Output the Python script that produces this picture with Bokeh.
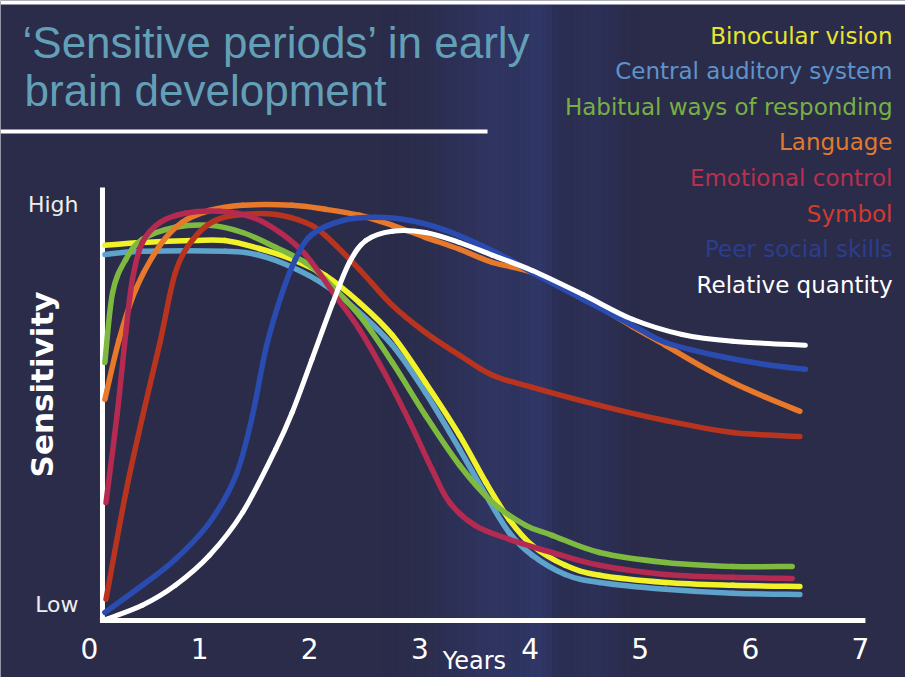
import math
from bokeh.plotting import figure
from bokeh.models import Range1d, FixedTicker, BoxAnnotation
from bokeh.core.properties import value
from bokeh.embed import file_html
from bokeh.resources import INLINE

# ---------------- data (years vs. relative sensitivity) ----------------
title_lines = ["\u2018Sensitive periods\u2019 in early", "brain development"]

binocular_x = [0.14, 0.48, 0.94, 1.23, 1.54, 1.84, 2.14, 2.45, 2.75, 3.05, 3.36, 3.60, 3.81, 4.02, 4.32, 4.63, 5.23, 5.84, 6.45]
binocular_y = [93.8, 94.5, 95.0, 95.0, 93.0, 90.3, 86.3, 79.5, 71.3, 59.5, 46.3, 34.5, 25.3, 18.8, 13.8, 11.3, 9.5, 8.8, 8.5]

auditory_x = [0.14, 0.48, 1.23, 1.54, 1.84, 2.14, 2.45, 2.75, 3.05, 3.36, 3.60, 3.81, 4.02, 4.32, 4.63, 5.23, 5.84, 6.45]
auditory_y = [91.5, 92.3, 92.3, 91.3, 88.3, 83.8, 77.0, 68.8, 57.0, 42.8, 31.3, 22.0, 16.3, 11.5, 9.5, 7.8, 6.8, 6.5]

habitual_x = [0.14, 0.21, 0.33, 0.48, 0.78, 1.09, 1.39, 1.69, 1.96, 2.14, 2.45, 2.75, 3.05, 3.36, 3.66, 3.96, 4.20, 4.63, 5.23, 5.84, 6.38]
habitual_y = [64.5, 82.0, 90.3, 95.3, 98.3, 98.8, 97.0, 93.3, 89.5, 85.3, 76.3, 64.5, 51.3, 38.8, 29.5, 23.8, 21.3, 17.0, 14.5, 13.5, 13.5]

language_x = [0.14, 0.27, 0.42, 0.64, 0.84, 1.09, 1.39, 1.84, 2.14, 2.45, 2.75, 3.05, 3.36, 3.66, 4.02, 4.48, 4.93, 5.23, 5.54, 5.84, 6.14, 6.45]
language_y = [55.3, 70.3, 82.8, 93.8, 99.5, 102.5, 103.8, 103.8, 102.8, 101.3, 98.8, 95.8, 92.8, 89.5, 87.0, 80.8, 73.5, 68.8, 63.8, 59.5, 55.8, 52.3]

emotional_x = [0.15, 0.25, 0.33, 0.39, 0.48, 0.64, 0.87, 1.18, 1.48, 1.73, 1.96, 2.23, 2.45, 2.69, 2.91, 3.11, 3.27, 3.50, 3.81, 4.20, 4.63, 5.23, 5.84, 6.38]
emotional_y = [29.5, 51.3, 72.0, 85.3, 94.5, 99.5, 101.8, 102.3, 100.8, 97.0, 91.5, 81.3, 72.8, 61.3, 49.5, 37.8, 29.5, 23.8, 20.3, 17.0, 13.8, 11.5, 10.8, 10.5]

symbol_x = [0.15, 0.33, 0.48, 0.64, 0.78, 0.94, 1.14, 1.39, 1.69, 1.96, 2.14, 2.45, 2.75, 3.05, 3.36, 3.66, 4.02, 4.63, 5.23, 5.84, 6.45]
symbol_y = [5.3, 32.0, 50.8, 69.5, 87.0, 95.3, 100.0, 101.5, 101.5, 99.5, 96.3, 87.8, 78.8, 72.0, 66.3, 61.3, 58.3, 53.8, 50.0, 47.0, 46.0]

peer_x = [0.14, 0.48, 0.78, 1.09, 1.33, 1.48, 1.60, 1.73, 1.87, 2.02, 2.30, 2.60, 2.91, 3.21, 3.50, 3.81, 4.02, 4.48, 4.93, 5.23, 5.68, 6.14, 6.50]
peer_y = [2.0, 8.8, 15.3, 24.5, 36.3, 51.3, 67.8, 80.3, 90.3, 96.5, 100.0, 100.8, 100.0, 97.8, 94.5, 90.3, 87.0, 80.3, 73.8, 69.5, 66.3, 64.0, 62.8]

relative_x = [0.15, 0.48, 0.78, 1.09, 1.39, 1.69, 1.84, 2.02, 2.21, 2.36, 2.51, 2.75, 3.05, 3.36, 3.66, 4.02, 4.48, 4.93, 5.38, 5.84, 6.50]
relative_y = [0.3, 3.8, 8.8, 16.3, 27.0, 42.8, 52.0, 65.3, 79.5, 89.5, 95.0, 97.3, 97.0, 94.5, 91.3, 87.5, 81.5, 75.3, 71.5, 69.8, 68.8]

series_names = ["Binocular vision", "Central auditory system", "Habitual ways of responding",
                "Language", "Emotional control", "Symbol", "Peer social skills", "Relative quantity"]
legend_colors = ["#e6e62c", "#5f93cc", "#78b042", "#e07a2e", "#b8304f", "#d03b2f", "#2b3d8e", "#ffffff"]
line_colors = ["#f2f22a", "#5ea3cc", "#7dba3f", "#e8792a", "#b52a50", "#b8341f", "#2a4bb0", "#ffffff"]
series_x = [binocular_x, auditory_x, habitual_x, language_x, emotional_x, symbol_x, peer_x, relative_x]
series_y = [binocular_y, auditory_y, habitual_y, language_y, emotional_y, symbol_y, peer_y, relative_y]
draw_order = [1, 0, 2, 3, 5, 4, 6, 7]

x_ticks = [0, 1, 2, 3, 4, 5, 6, 7]
y_ticks = [4, 104]
y_tick_labels = ["Low", "High"]
x_label = "Years"
y_label = "Sensitivity"

# ---------------- styling ----------------
BG = "#2b2c4a"
FONT = "DejaVu Sans"

p = figure(width=905, height=677,
           x_range=Range1d(-0.808, 7.409), y_range=Range1d(-14.25, 155),
           output_backend="svg", toolbar_location=None, min_border=0,
           background_fill_color=BG, border_fill_color=BG, outline_line_color=None)
p.grid.visible = False

# soft blue glow bands of the slide background (decoration)
for center, sigma, peak in [(3.72, 0.36, 0.15), (4.08, 0.10, 0.12), (4.60, 0.16, 0.08)]:
    n = 40
    step = 6 * sigma / n
    for i in range(n):
        left = center - 3 * sigma + i * step
        mid = left + step / 2
        a = peak * math.exp(-0.5 * ((mid - center) / sigma) ** 2)
        p.add_layout(BoxAnnotation(left=left, right=left + step, fill_color="#4a6ae0",
                                   fill_alpha=a, line_color=None, level="underlay"))

# white slide edge at top
p.add_layout(BoxAnnotation(bottom=154, fill_color="white", fill_alpha=1.0, line_color=None))

# axes (fixed inside the slide)
p.xaxis.fixed_location = 0
p.xaxis.ticker = FixedTicker(ticks=x_ticks)
p.xaxis.axis_line_color = None
p.xaxis.major_tick_line_color = None
p.xaxis.minor_tick_line_color = None
p.xaxis.major_tick_out = 0
p.xaxis.major_tick_in = 0
p.xaxis.major_label_standoff = 17
p.xaxis.major_label_text_color = "white"
p.xaxis.major_label_text_font = FONT
p.xaxis.major_label_text_font_size = "28px"

p.yaxis.fixed_location = 0.118
p.yaxis.ticker = FixedTicker(ticks=y_ticks)
p.yaxis.major_label_overrides = {t: lab for t, lab in zip(y_ticks, y_tick_labels)}
p.yaxis.axis_line_color = None
p.yaxis.major_tick_line_color = None
p.yaxis.minor_tick_line_color = None
p.yaxis.major_tick_out = 0
p.yaxis.major_tick_in = 0
p.yaxis.major_label_standoff = 24
p.yaxis.major_label_text_color = "#eeeeee"
p.yaxis.major_label_text_font = FONT
p.yaxis.major_label_text_font_size = "22px"

# white axis lines
p.line([0.118, 0.118], [108.25, -0.6], line_color="white", line_width=5)
p.line([0.095, 7.045], [0, 0], line_color="white", line_width=5)


def smooth_segments(xs, ys):
    """Catmull-Rom control points so the read points are joined by smooth Bezier curves."""
    n = len(xs)
    seg = {k: [] for k in ("x0", "y0", "x1", "y1", "cx0", "cy0", "cx1", "cy1")}
    for i in range(n - 1):
        im1 = max(i - 1, 0)
        ip2 = min(i + 2, n - 1)
        seg["x0"].append(xs[i]); seg["y0"].append(ys[i])
        seg["x1"].append(xs[i + 1]); seg["y1"].append(ys[i + 1])
        seg["cx0"].append(xs[i] + (xs[i + 1] - xs[im1]) / 6)
        seg["cy0"].append(ys[i] + (ys[i + 1] - ys[im1]) / 6)
        seg["cx1"].append(xs[i + 1] - (xs[ip2] - xs[i]) / 6)
        seg["cy1"].append(ys[i + 1] - (ys[ip2] - ys[i]) / 6)
    return seg


# curves
for i in draw_order:
    s = smooth_segments(series_x[i], series_y[i])
    p.bezier(line_color=line_colors[i], line_width=5 if i == 7 else 5.5,
             line_cap="round", **s)

# colored legend texts, right aligned
leg_y = [146.25 - k * 8.9 for k in range(len(series_names))]
p.text(x=[7.291] * len(series_names), y=leg_y, text=series_names, text_color=legend_colors,
       text_align="right", text_baseline="middle",
       text_font=value(FONT), text_font_size="23px")

# title
p.text(x=[-0.608, -0.59], y=[144.5, 132.5], text=title_lines, text_color="#63a0b8",
       text_align="left", text_baseline="middle",
       text_font=value("Liberation Sans"), text_font_size="44px")
p.line([-0.808, 3.614], [122.25, 122.25], line_color="white", line_width=4)

# axis titles
p.text(x=[-0.427], y=[59], text=[y_label], angle=math.pi / 2, text_color="white",
       text_align="center", text_baseline="middle",
       text_font=value(FONT), text_font_size="31px", text_font_style="bold")
p.text(x=[3.495], y=[-6.5], text=[x_label], text_color="white",
       text_align="center", text_baseline="top",
       text_font=value(FONT), text_font_size="24px")

open("out.html", "w").write(file_html(p, INLINE))
